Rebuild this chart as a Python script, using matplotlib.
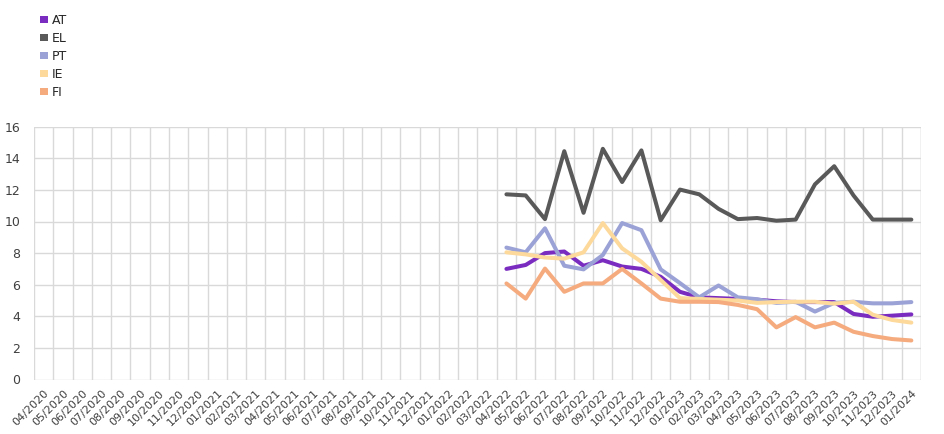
import pandas as pd
import numpy as np
import matplotlib
matplotlib.use('Agg')
import matplotlib.pyplot as plt
from matplotlib.patches import Patch

months = pd.date_range('2020-04-01', '2024-01-01', freq='MS').strftime('%m/%Y').tolist()
start = months.index('04/2022')

at = [7.0, 7.25, 8.0, 8.1, 7.2, 7.55, 7.15, 7.0, 6.5, 5.55, 5.2, 5.15, 5.1, 5.05, 4.95, 4.9, 4.9, 4.9, 4.15, 3.97, 4.04, 4.12]
el = [11.72, 11.65, 10.15, 14.45, 10.55, 14.6, 12.5, 14.5, 10.08, 12.02, 11.72, 10.8, 10.15, 10.22, 10.05, 10.12, 12.35, 13.5, 11.65, 10.12, 10.12, 10.12]
pt = [8.35, 8.05, 9.57, 7.2, 6.97, 7.88, 9.9, 9.45, 6.97, 6.1, 5.2, 5.95, 5.2, 5.08, 4.85, 4.92, 4.3, 4.85, 4.92, 4.82, 4.82, 4.9]
ie = [8.05, 7.92, 7.72, 7.65, 8.05, 9.9, 8.3, 7.45, 6.3, 5.15, 5.1, 5.05, 5.0, 4.85, 4.9, 4.92, 4.92, 4.8, 4.92, 4.1, 3.77, 3.6]
fi = [6.08, 5.12, 7.02, 5.55, 6.08, 6.08, 7.0, 6.08, 5.12, 4.92, 4.92, 4.9, 4.72, 4.45, 3.3, 3.95, 3.3, 3.6, 3.02, 2.75, 2.56, 2.47]

series = [('AT', at, '#7b2cc0'), ('EL', el, '#595959'), ('PT', pt, '#9aa2d6'),
          ('IE', ie, '#fdd99b'), ('FI', fi, '#f5ab7e')]

fig = plt.figure(figsize=(9.45, 4.34), dpi=100)
ax = fig.add_axes([34 / 945, (434 - 379.5) / 434, 887 / 945, 252.8 / 434])

x = np.arange(start, start + len(at))
for name, vals, color in series:
    ax.plot(x, vals, color=color, lw=2.9, solid_joinstyle='round', solid_capstyle='round', zorder=3)

ax.set_xlim(-0.5, len(months) - 0.5)
ax.set_ylim(0, 16)
ax.set_yticks(range(0, 17, 2))
ax.set_xticks(range(len(months)))
ax.set_xticklabels(months, rotation=45, ha='right', rotation_mode='anchor', fontsize=8, color='#404040')
ax.set_xticks(np.arange(-0.5, len(months)), minor=True)
ax.tick_params(axis='y', labelsize=9, colors='#404040', length=0, pad=10)
ax.tick_params(axis='x', which='major', length=0, pad=6)
ax.tick_params(axis='x', which='minor', length=0)
ax.grid(True, axis='y', color='#d9d9d9', lw=1)
ax.grid(True, axis='x', which='minor', color='#d9d9d9', lw=1)
ax.grid(False, axis='x', which='major')
for s in ax.spines.values():
    s.set_visible(False)
ax.axvline(len(months) - 0.5, color='#d9d9d9', lw=1)

handles = [Patch(facecolor=c, edgecolor='none') for _, _, c in series]
fig.legend(handles, [n for n, _, _ in series], loc='upper left', bbox_to_anchor=(29 / 945, 1 - 3 / 434),
           frameon=False, fontsize=9, handlelength=0.6, handleheight=0.45, handletextpad=0.35,
           labelspacing=0.39, labelcolor='#262626')

fig.savefig('out.png', dpi=100)
